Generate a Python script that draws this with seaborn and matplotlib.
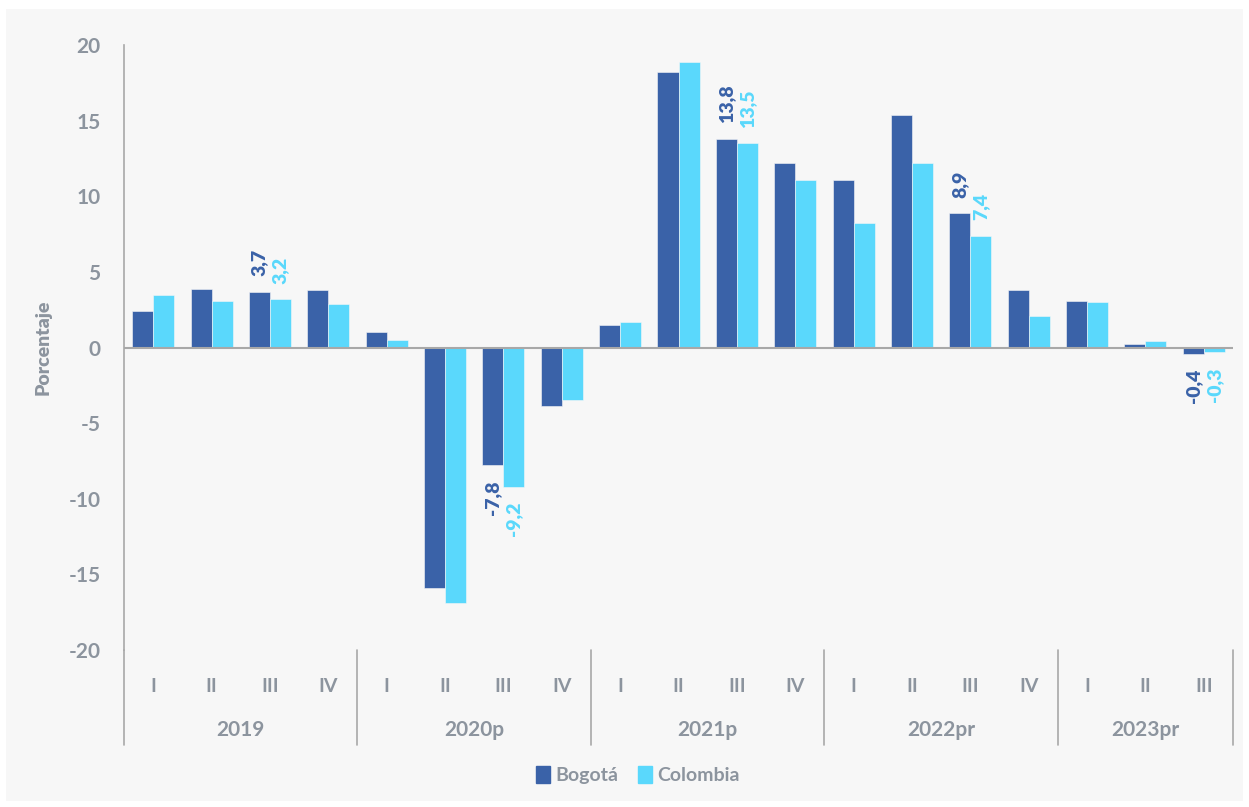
import pandas as pd
import seaborn as sns
import matplotlib.pyplot as plt
from matplotlib.patches import Patch, Rectangle
import matplotlib.transforms as mtransforms

plt.switch_backend("Agg")

years = ["2019", "2020p", "2021p", "2022pr", "2023pr"]
quarters = [
    ["I", "II", "III", "IV"],
    ["I", "II", "III", "IV"],
    ["I", "II", "III", "IV"],
    ["I", "II", "III", "IV"],
    ["I", "II", "III"],
]
bogota = [2.4, 3.9, 3.7, 3.8,
          1.0, -15.9, -7.8, -3.9,
          1.5, 18.2, 13.8, 12.2,
          11.1, 15.4, 8.9, 3.8,
          3.1, 0.2, -0.4]
colombia = [3.5, 3.1, 3.2, 2.9,
            0.5, -16.9, -9.2, -3.5,
            1.7, 18.9, 13.5, 11.1,
            8.2, 12.2, 7.4, 2.1,
            3.0, 0.4, -0.3]
# quarters that carry a value label (III of each year)
labelled = [2, 6, 10, 14, 18]

BLUE = "#3a62a8"
CYAN = "#5ad8fc"
GRAY = "#8c949e"
LINE = "#a8a8a8"

sns.set_style("white")
plt.rcParams["font.family"] = ["Lato", "DejaVu Sans"]
plt.rcParams["font.weight"] = "bold"
plt.rcParams["axes.unicode_minus"] = False

periods = [f"{y}-{q}" for y, qs in zip(years, quarters) for q in qs]
qlabels = [q for qs in quarters for q in qs]
df = pd.DataFrame({
    "periodo": periods * 2,
    "serie": ["Bogotá"] * len(periods) + ["Colombia"] * len(periods),
    "valor": bogota + colombia,
})

fig = plt.figure(figsize=(12.49, 8.07), dpi=100, facecolor="white")
fig.patches.append(Rectangle((6 / 1249, 6 / 807), 1237 / 1249, 792 / 807,
                             transform=fig.transFigure, facecolor="#f7f7f7",
                             edgecolor="none", zorder=-10))
ax = fig.add_axes([124 / 1249, 1 - 650 / 807, 1109 / 1249, 605 / 807])
ax.set_facecolor("none")

sns.barplot(data=df, x="periodo", y="valor", hue="serie", order=periods,
            hue_order=["Bogotá", "Colombia"], palette=[BLUE, CYAN],
            saturation=1, width=0.72, ax=ax, legend=False,
            edgecolor="#f7f7f7", linewidth=0.4)

ax.set_xlim(-0.5, len(periods) - 0.5)
ax.set_ylim(-20, 20)
ax.set_yticks(range(-20, 21, 5))
ax.axhline(0, color=LINE, lw=1.5, zorder=3)

for s in ["top", "right", "bottom"]:
    ax.spines[s].set_visible(False)
ax.spines["left"].set_color(LINE)
ax.spines["left"].set_linewidth(1.2)
ax.tick_params(axis="y", direction="in", length=8, width=1.2, color=LINE,
               labelsize=15, labelcolor=GRAY, pad=17)
ax.set_xticks(range(len(periods)))
ax.set_xticklabels(qlabels)
ax.tick_params(axis="x", length=0, labelsize=14, labelcolor=GRAY, pad=20)
for lab in ax.get_xticklabels() + ax.get_yticklabels():
    lab.set_fontweight("bold")
ax.set_xlabel("")
ax.set_ylabel("Porcentaje", color=GRAY, fontsize=14, fontweight="heavy",
              labelpad=12)

# year separators and labels below the axis
trans = mtransforms.blended_transform_factory(ax.transData, ax.transAxes)
bounds = [-0.5]
for qs in quarters:
    bounds.append(bounds[-1] + len(qs))
for b in bounds:
    ax.plot([b, b], [0, -0.157], transform=trans, color=LINE, lw=1.2,
            clip_on=False)
for i, y in enumerate(years):
    ax.text((bounds[i] + bounds[i + 1]) / 2, -0.132, y, transform=trans,
            ha="center", va="center", fontsize=15, color=GRAY,
            fontweight="bold")

# value labels
for cont, color in zip(ax.containers, [BLUE, CYAN]):
    for i in labelled:
        bar = cont[i]
        v = bar.get_height()
        xc = bar.get_x() + bar.get_width() / 2
        txt = f"{v:.1f}".replace(".", ",")
        off = 11 if v >= 0 else -11
        ax.annotate(txt, (xc, v), xytext=(0, off), textcoords="offset points",
                    rotation=90, ha="center", va="bottom" if v >= 0 else "top",
                    fontsize=14, color=color, fontweight="heavy")

handles = [Patch(color=BLUE, label="Bogotá"), Patch(color=CYAN, label="Colombia")]
leg = fig.legend(handles=handles, loc="center", bbox_to_anchor=(638 / 1249, 1 - 775 / 807),
                 ncol=2, frameon=False, handlelength=0.7,
                 handleheight=1.0, handletextpad=0.3, columnspacing=1.0,
                 prop={"size": 14, "weight": "bold"})
for t in leg.get_texts():
    t.set_color(GRAY)

fig.savefig("out.png", dpi=100)
